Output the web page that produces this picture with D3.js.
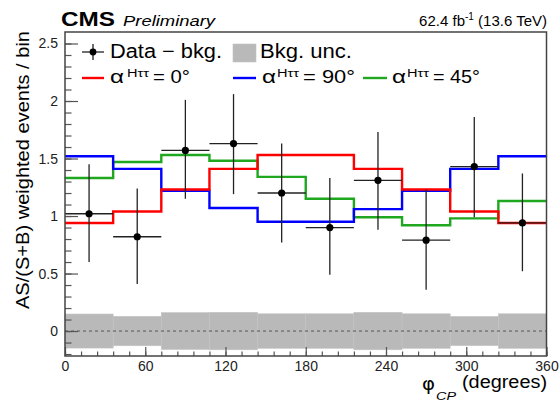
<!DOCTYPE html>
<html>
<head>
<meta charset="utf-8">
<script src="https://cdn.jsdelivr.net/npm/d3@7"></script>
<style>
  html, body { margin: 0; padding: 0; background: #fff; }
  svg { display: block; font-family: "Liberation Sans", Arial, Helvetica, sans-serif; }
</style>
</head>
<body>
<svg id="chart" width="560" height="402"></svg>
<script>
// ---------------- data ----------------
const binEdges = [0, 36, 72, 108, 144, 180, 216, 252, 288, 324, 360];
const alpha0   = [0.94, 1.04, 1.23, 1.41, 1.53, 1.53, 1.41, 1.23, 1.04, 0.94];
const alpha90  = [1.52, 1.41, 1.22, 1.07, 0.95, 0.95, 1.06, 1.22, 1.41, 1.52];
const alpha45  = [1.33, 1.47, 1.53, 1.48, 1.34, 1.15, 0.99, 0.92, 0.98, 1.13];
const dataVal  = [1.02, 0.82, 1.57, 1.63, 1.20, 0.90, 1.31, 0.79, 1.43, 0.94];
const dataHigh = [1.45, 1.24, 2.01, 2.06, 1.63, 1.33, 1.73, 1.23, 1.86, 1.37];
const dataLow  = [0.60, 0.41, 1.15, 1.19, 0.77, 0.49, 0.88, 0.36, 0.99, 0.52];
const bkgUnc   = [0.148, 0.128, 0.16, 0.163, 0.15, 0.15, 0.163, 0.15, 0.127, 0.15];
const yMajorTicks = [0, 0.5, 1, 1.5, 2, 2.5];
const yTickLabels = ["0", "0.5", "1", "1.5", "2", "2.5"];
const xMajorTicks = [0, 60, 120, 180, 240, 300, 360];
const xTickLabels = ["0", "60", "120", "180", "240", "300", "360"];

// ---------------- layout ----------------
const svg = d3.select("#chart");
const L = 65, R = 546.5, T = 32, B = 356;
const x = d3.scaleLinear().domain([0, 360]).range([L, R]);
const y = d3.scaleLinear().domain([-0.217, 2.6]).range([B, T]);

function addText(px, py, str, size, len, opts = {}) {
  const t = svg.append("text")
    .attr("x", px).attr("y", py)
    .attr("font-size", size)
    .attr("fill", opts.fill || "#000")
    .attr("text-anchor", opts.anchor || "start")
    .attr("font-weight", opts.weight || "normal")
    .attr("font-style", opts.style || "normal")
    .text(str);
  if (opts.family) t.attr("font-family", opts.family);
  if (len) t.attr("textLength", len).attr("lengthAdjust", "spacingAndGlyphs");
  if (opts.transform) t.attr("transform", opts.transform);
  return t;
}

const centers = d3.range(binEdges.length - 1).map(i => (binEdges[i] + binEdges[i + 1]) / 2);

// background uncertainty band
svg.append("g").selectAll("rect").data(bkgUnc).join("rect")
  .attr("x", (d, i) => x(binEdges[i]))
  .attr("width", (d, i) => x(binEdges[i + 1]) - x(binEdges[i]))
  .attr("y", d => y(d))
  .attr("height", d => y(-d) - y(d))
  .attr("fill", "#b9b9b9")
  .attr("stroke", "#c4c4c4")
  .attr("stroke-width", 0.6);

// dashed zero line
svg.append("line")
  .attr("x1", x(0)).attr("x2", x(360))
  .attr("y1", y(0)).attr("y2", y(0))
  .attr("stroke", "#555").attr("stroke-width", 1)
  .attr("stroke-dasharray", "3,3");

// step histograms
const step = d3.line().x(d => x(d[0])).y(d => y(d[1])).curve(d3.curveStepAfter);
function histPts(vals) {
  const pts = vals.map((v, i) => [binEdges[i], v]);
  pts.push([binEdges[binEdges.length - 1], vals[vals.length - 1]]);
  return pts;
}
const series = [
  { vals: alpha45, color: "#1fa81f" },
  { vals: alpha90, color: "#0000ff" },
  { vals: alpha0,  color: "#ff0000" }
];
series.forEach(s => {
  svg.append("path").datum(histPts(s.vals))
    .attr("d", step).attr("fill", "none")
    .attr("stroke", s.color).attr("stroke-width", 2.4);
});

// data points with error bars
const gData = svg.append("g");
dataVal.forEach((v, i) => {
  gData.append("line")
    .attr("x1", x(binEdges[i])).attr("x2", x(binEdges[i + 1]))
    .attr("y1", y(v)).attr("y2", y(v))
    .attr("stroke", "#222").attr("stroke-width", 1.3);
  gData.append("line")
    .attr("x1", x(centers[i])).attr("x2", x(centers[i]))
    .attr("y1", y(dataLow[i])).attr("y2", y(dataHigh[i]))
    .attr("stroke", "#222").attr("stroke-width", 1.3);
  gData.append("circle")
    .attr("cx", x(centers[i])).attr("cy", y(v)).attr("r", 3.6)
    .attr("fill", "#000");
});

// axes
const tickColor = "#555";
function styleAxis(g) {
  g.select(".domain").remove();
  g.selectAll(".tick line").attr("stroke", tickColor).attr("stroke-width", 1.2);
  g.selectAll(".tick text").attr("fill", "#222").attr("font-size", 14)
    .attr("font-family", "'Liberation Sans', Arial, sans-serif");
}
// y minor
svg.append("g").attr("transform", `translate(${L},0)`)
  .call(d3.axisLeft(y).tickValues(d3.range(-2, 26).map(k => k / 10)).tickSizeInner(-6.5).tickSizeOuter(0).tickFormat(""))
  .call(styleAxis);
// y major
svg.append("g").attr("transform", `translate(${L},0)`)
  .call(d3.axisLeft(y).tickValues(yMajorTicks).tickSizeInner(-13).tickSizeOuter(0).tickPadding(7)
    .tickFormat((d, i) => yTickLabels[i]))
  .call(styleAxis);
// x minor
svg.append("g").attr("transform", `translate(0,${B})`)
  .call(d3.axisBottom(x).tickValues(d3.range(0, 361, 12)).tickSizeInner(-4.5).tickSizeOuter(0).tickFormat(""))
  .call(styleAxis);
// x major
svg.append("g").attr("transform", `translate(0,${B})`)
  .call(d3.axisBottom(x).tickValues(xMajorTicks).tickSizeInner(-9).tickSizeOuter(0).tickPadding(5)
    .tickFormat((d, i) => xTickLabels[i]))
  .call(styleAxis);

// frame
svg.append("rect")
  .attr("x", L).attr("y", T).attr("width", R - L).attr("height", B - T)
  .attr("fill", "none").attr("stroke", "#444").attr("stroke-width", 1.5);

// titles
addText(61, 26, "CMS", 20, 54, { weight: "bold" });
addText(123, 26, "Preliminary", 15.5, 92, { style: "italic" });
const lumi = svg.append("text").attr("x", 547).attr("y", 26).attr("text-anchor", "end")
  .attr("font-size", 15).attr("fill", "#000");
lumi.append("tspan").text("62.4 fb");
lumi.append("tspan").attr("font-size", 10).attr("dy", -6).text("-1");
lumi.append("tspan").attr("dy", 6).text(" (13.6 TeV)");

// y axis title
addText(29, 31, "AS/(S+B) weighted events / bin", 18, 278,
  { anchor: "end", transform: "rotate(-90,29,31)" });
// x axis title
addText(422, 390, "\u03C6", 18, 13, { family: "'DejaVu Sans', sans-serif" });
addText(436, 399.5, "CP", 10, 20, { style: "italic" });
addText(547, 388, "(degrees)", 18, 85, { anchor: "end" });

// legend
// row 1
svg.append("line").attr("x1", 82).attr("x2", 104).attr("y1", 52).attr("y2", 52)
  .attr("stroke", "#222").attr("stroke-width", 1.3);
svg.append("line").attr("x1", 93).attr("x2", 93).attr("y1", 44).attr("y2", 60)
  .attr("stroke", "#222").attr("stroke-width", 1.3);
svg.append("circle").attr("cx", 93).attr("cy", 52).attr("r", 3.4).attr("fill", "#000");
addText(110, 58, "Data \u2212 bkg.", 20, 112);
svg.append("rect").attr("x", 233).attr("y", 44).attr("width", 23).attr("height", 18)
  .attr("fill", "#b9b9b9").attr("stroke", "#c4c4c4").attr("stroke-width", 0.6);
addText(260, 58, "Bkg. unc.", 20, 92);
// row 2
const legRows = [
  { color: "#ff0000", lx: 82,  lw: 22, ax: 110, sx: 127, ex: 153, elen: 37, label: "= 0\u00B0" },
  { color: "#0000ff", lx: 233, lw: 23, ax: 262, sx: 277, ex: 303, elen: 52, label: "= 90\u00B0" },
  { color: "#1fa81f", lx: 363, lw: 24, ax: 392, sx: 407, ex: 433, elen: 47, label: "= 45\u00B0" }
];
legRows.forEach(r => {
  svg.append("line").attr("x1", r.lx).attr("x2", r.lx + r.lw).attr("y1", 78).attr("y2", 78)
    .attr("stroke", r.color).attr("stroke-width", 2.4);
  addText(r.ax, 83, "\u03B1", 19, 14);
  addText(r.sx, 76.5, "H\u03C4\u03C4", 10, 22);
  addText(r.ex, 83, r.label, 18.5, r.elen);
});
</script>
</body>
</html>
